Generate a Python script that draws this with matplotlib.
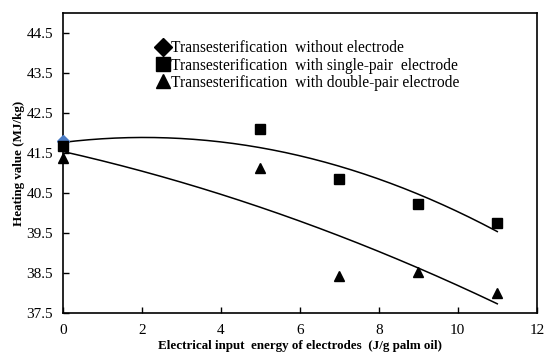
import matplotlib
matplotlib.use("Agg")
import matplotlib.pyplot as plt
import numpy as np

plt.rcParams['font.family'] = ['Liberation Serif', 'DejaVu Serif']

# energy input (J/g palm oil)
x_none = [0]
y_none = [41.8]

x_single = [0, 5, 7, 9, 11]
y_single = [41.68, 42.09, 40.84, 40.22, 39.74]

x_double = [0, 5, 7, 9, 11]
y_double = [41.38, 41.13, 38.43, 38.53, 37.99]

fig = plt.figure(figsize=(5.5, 3.63), dpi=100)
ax = fig.add_axes([0.114, 0.138, 0.862, 0.826])

# quadratic trend lines
xs = np.linspace(0, 11, 200)
p1 = np.polyfit(x_single, y_single, 2)
p2 = np.polyfit(x_double, y_double, 2)
ax.plot(xs, np.polyval(p1, xs), color='black', lw=1.1)
ax.plot(xs, np.polyval(p2, xs), color='black', lw=1.1)

ax.plot(x_none, y_none, linestyle='none', marker='D', ms=6, color='#4a7bc4',
        clip_on=False, zorder=3)
ax.plot(x_single, y_single, linestyle='none', marker='s', ms=7, color='black',
        clip_on=False, zorder=4)
ax.plot(x_double, y_double, linestyle='none', marker='^', ms=6.5, color='black',
        clip_on=False, zorder=5)

# legend handles (all black in the original)
h1, = ax.plot([], [], linestyle='none', marker='D', ms=9, color='black')
h2, = ax.plot([], [], linestyle='none', marker='s', ms=10.5, color='black')
h3, = ax.plot([], [], linestyle='none', marker='^', ms=10, color='black')
ax.legend([h1, h2, h3],
          ['Transesterification  without electrode',
           'Transesterification  with single-pair  electrode',
           'Transesterification  with double-pair electrode'],
          loc='upper left', bbox_to_anchor=(0.18, 0.935), frameon=False,
          fontsize=11.2, handlelength=0.9, handletextpad=0.1,
          labelspacing=0.08, borderpad=0)

ax.set_xlim(0, 12)
ax.set_ylim(37.5, 45)
ax.set_xticks(range(0, 13, 2))
ax.set_yticks(np.arange(37.5, 45, 1.0))
ax.set_yticklabels(['%.1f' % v for v in np.arange(37.5, 45, 1.0)])
ax.tick_params(direction='in', length=4, labelsize=11, width=1)
ax.tick_params(axis='x', pad=8)
ax.tick_params(axis='y', pad=7)
for s in ax.spines.values():
    s.set_linewidth(1.2)

ax.set_xlabel('Electrical input  energy of electrodes  (J/g palm oil)',
              fontsize=9.4, fontweight='bold', labelpad=2)
ax.set_ylabel('Heating value (MJ/kg)', fontsize=9.4, fontweight='bold', labelpad=1)

fig.savefig('out.png', dpi=100)
